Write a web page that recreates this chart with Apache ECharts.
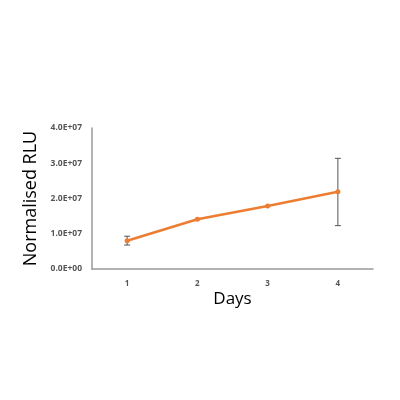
<!DOCTYPE html>
<html><head><meta charset="utf-8">
<script src="https://cdn.jsdelivr.net/npm/echarts@6/dist/echarts.min.js"></script>
<style>html,body{margin:0;padding:0;background:#fff}#c{width:400px;height:400px}</style>
</head><body><div id="c"></div>
<script>
var days = ['1', '2', '3', '4'];
var rlu = [8.0e6, 1.41e7, 1.79e7, 2.19e7];
var errLow = [6.8e6, 1.41e7, 1.79e7, 1.23e7];
var errHigh = [9.3e6, 1.41e7, 1.79e7, 3.14e7];

function fmt(v){ return (v/1e7).toFixed(1) + (v === 0 ? 'E+00' : 'E+07'); }

var chart = echarts.init(document.getElementById('c'));
chart.setOption({
  animation: false,
  grid: {left: 92, right: 27, top: 128, bottom: 131},
  xAxis: {
    type: 'category', data: days, boundaryGap: true,
    name: 'Days', nameLocation: 'middle', nameGap: 22,
    nameTextStyle: {fontFamily: 'Open Sans', fontSize: 17, color: '#000'},
    axisLine: {lineStyle: {color: '#999', width: 1.5}},
    axisTick: {show: false},
    axisLabel: {fontFamily: 'Open Sans', fontSize: 8, fontWeight: 'bold', color: '#555', margin: 11}
  },
  yAxis: {
    type: 'value', min: 0, max: 4e7, interval: 1e7,
    name: 'Normalised RLU', nameLocation: 'middle', nameGap: 51,
    nameTextStyle: {fontFamily: 'Open Sans', fontSize: 18, color: '#000'},
    axisLine: {show: true, lineStyle: {color: '#999', width: 1.5}},
    axisTick: {show: false},
    splitLine: {show: false},
    axisLabel: {fontFamily: 'Open Sans', fontSize: 8.5, fontWeight: 'bold', color: '#555', margin: 10, formatter: fmt}
  },
  series: [{
    type: 'line', data: rlu,
    lineStyle: {color: '#ED7D31', width: 2.5},
    itemStyle: {color: '#ED7D31'},
    symbol: 'circle', symbolSize: 5, z: 3
  }, {
    type: 'custom', z: 2,
    data: days.map(function(d, i){ return [i, errLow[i], errHigh[i]]; }),
    renderItem: function(params, api){
      var x = api.value(0);
      var lo = api.coord([x, api.value(1)]);
      var hi = api.coord([x, api.value(2)]);
      if (Math.abs(lo[1]-hi[1]) < 1) return {type: 'group', children: []};
      var w = 3;
      var st = {stroke: '#555', lineWidth: 1};
      return {type: 'group', children: [
        {type: 'line', shape: {x1: lo[0], y1: lo[1], x2: hi[0], y2: hi[1]}, style: st},
        {type: 'line', shape: {x1: lo[0]-w, y1: lo[1], x2: lo[0]+w, y2: lo[1]}, style: st},
        {type: 'line', shape: {x1: hi[0]-w, y1: hi[1], x2: hi[0]+w, y2: hi[1]}, style: st}
      ]};
    }
  }]
});
</script></body></html>
